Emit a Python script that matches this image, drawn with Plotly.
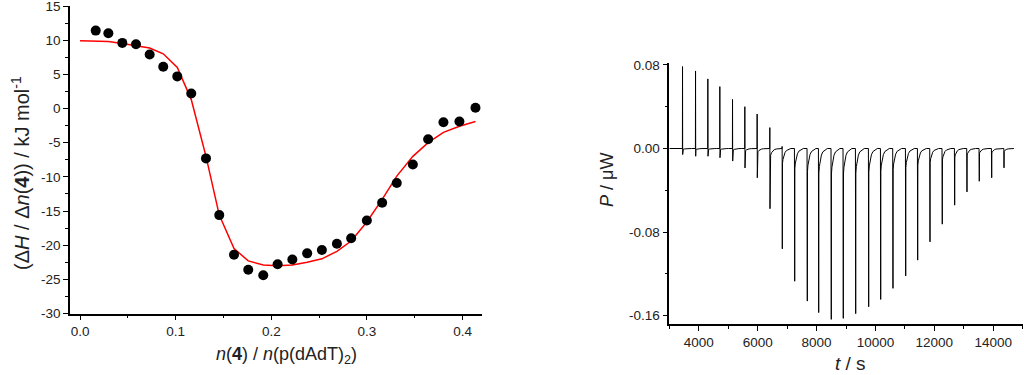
import plotly.graph_objects as go

# ---------------- Left panel: binding isotherm ----------------
ratio = [0.0164, 0.0296, 0.0442, 0.0585, 0.0728, 0.0870, 0.1017, 0.1163, 0.1317,
         0.1456, 0.1610, 0.1759, 0.1916, 0.2066, 0.2220, 0.2375, 0.2529, 0.2686,
         0.2835, 0.2999, 0.3159, 0.3312, 0.3480, 0.3640, 0.3800, 0.3967, 0.4135]
dH = [11.4, 11.0, 9.6, 9.4, 7.9, 6.1, 4.7, 2.2, -7.3,
      -15.6, -21.4, -23.6, -24.4, -22.8, -22.1, -21.2, -20.7, -19.8,
      -19.0, -16.4, -13.8, -10.9, -8.2, -4.5, -2.0, -1.9, 0.1]

fit_x = [0.0, 0.0164, 0.0296, 0.0442, 0.0585, 0.0728, 0.0870, 0.1017, 0.1163, 0.1317,
         0.1456, 0.1610, 0.1759, 0.1916, 0.2066, 0.2220, 0.2375, 0.2529, 0.2686,
         0.2835, 0.2999, 0.3159, 0.3312, 0.3480, 0.3640, 0.3800, 0.3967, 0.4135]
fit_y = [9.9, 9.85, 9.8, 9.5, 9.2, 8.85, 8.0, 6.0, 1.3, -7.0,
         -15.6, -20.5, -22.3, -22.9, -23.0, -22.9, -22.5, -22.0, -20.9,
         -19.4, -16.6, -13.3, -9.9, -7.0, -5.0, -3.5, -2.6, -1.9]

left_xticks = [0.0, 0.1, 0.2, 0.3, 0.4]
left_xticklabels = ["0.0", "0.1", "0.2", "0.3", "0.4"]
left_yticks = [15, 10, 5, 0, -5, -10, -15, -20, -25, -30]
left_yticklabels = ["15", "10", "5", "0", "-5", "-10", "-15", "-20", "-25", "-30"]

# ---------------- Right panel: raw thermogram ----------------
inj_times = [3446, 3888, 4306, 4713, 5144, 5562, 5980, 6411, 6829, 7250, 7678, 8065,
             8492, 8900, 9321, 9762, 10170, 10587, 11019, 11426, 11844, 12261, 12682,
             13100, 13518, 13939, 14357]
peak_max = [0.0784, 0.0742, 0.0666, 0.0592, 0.047, 0.040, 0.033, 0.020, 0.002, 0.0,
            0.0, 0.0, 0.0, 0.0, 0.0, 0.0, 0.0, 0.0, 0.0, 0.0, 0.0, 0.0, 0.0, 0.0,
            0.0, 0.0, 0.0]
peak_min = [-0.0058, -0.0074, -0.0074, -0.0088, -0.012, -0.0186, -0.028, -0.0576, -0.096,
            -0.127, -0.146, -0.157, -0.1635, -0.1625, -0.158, -0.1514, -0.1444, -0.1338,
            -0.122, -0.1068, -0.0893, -0.0724, -0.0542, -0.0415, -0.0313, -0.028, -0.0185]
trace_start = 3000
trace_end = 14700

right_xticks = [4000, 6000, 8000, 10000, 12000, 14000]
right_xticklabels = ["4000", "6000", "8000", "10000", "12000", "14000"]
right_yticks = [0.08, 0.0, -0.08, -0.16]
right_yticklabels = ["0.08", "0.00", "-0.08", "-0.16"]

# peak profile (relative time offsets in s, fraction of the peak minimum)
prof_dt = [8, 14, 30, 60, 100, 150, 220, 300]
prof_f = [1.0, 0.15, 0.11, 0.07, 0.04, 0.02, 0.008, 0.0]

tx = [trace_start]
ty = [0.0]
for t, mx, mn in zip(inj_times, peak_max, peak_min):
    tx += [t - 1, t + 3]
    ty += [0.0, mx]
    for dt, f in zip(prof_dt, prof_f):
        tx.append(t + dt)
        ty.append(mn * f)
tx.append(trace_end)
ty.append(0.0)

W, H = 1024, 375
def px_x(p):
    return p / W
def px_y(p):
    return (H - p) / H

fig = go.Figure()
fig.add_trace(go.Scatter(x=fit_x, y=fit_y, mode="lines",
                         line=dict(color="#ff0000", width=1.5),
                         xaxis="x", yaxis="y", showlegend=False))
fig.add_trace(go.Scatter(x=ratio, y=dH, mode="markers",
                         marker=dict(color="black", size=10),
                         xaxis="x", yaxis="y", showlegend=False))
fig.add_trace(go.Scatter(x=tx, y=ty, mode="lines",
                         line=dict(color="black", width=1),
                         xaxis="x2", yaxis="y2", showlegend=False))

FONT = "Liberation Sans, Arial, sans-serif"
tickfont = dict(family=FONT, size=13.5, color="#222")
axis_common = dict(showline=True, linecolor="black", linewidth=1.5, ticks="outside",
                   tickcolor="black", tickwidth=1, ticklen=5, showgrid=False,
                   zeroline=False, tickfont=tickfont, mirror=False, automargin=False,
                   ticklabeloverflow="allow")

fig.update_layout(
    template="simple_white",
    width=W, height=H,
    margin=dict(l=0, r=0, t=0, b=0),
    paper_bgcolor="white", plot_bgcolor="white",
    xaxis=dict(domain=[px_x(70), px_x(481.7)], range=[-0.0105, 0.42], anchor="y",
               tickmode="array", tickvals=left_xticks, ticktext=left_xticklabels,
               minor=dict(ticks="outside", ticklen=3, dtick=0.05, tick0=0, tickcolor="black"),
               **axis_common),
    yaxis=dict(domain=[px_y(313.5), px_y(6)], range=[-30, 15], anchor="x",
               tickmode="array", tickvals=left_yticks, ticktext=left_yticklabels,
               minor=dict(ticks="outside", ticklen=3, dtick=2.5, tick0=0, tickcolor="black"),
               **axis_common),
    xaxis2=dict(domain=[px_x(669.3), px_x(1022.7)], range=[3000, 15000], anchor="y2",
                tickmode="array", tickvals=right_xticks, ticktext=right_xticklabels,
                minor=dict(ticks="outside", ticklen=3, dtick=1000, tick0=0, tickcolor="black"),
                **axis_common),
    yaxis2=dict(domain=[px_y(324.3), px_y(62.8)], range=[-0.1682, 0.082], anchor="x2",
                tickmode="array", tickvals=right_yticks, ticktext=right_yticklabels,
                minor=dict(ticks="outside", ticklen=3, dtick=0.04, tick0=0, tickcolor="black"),
                **axis_common),
)

fig.add_annotation(text="(Δ<i>H</i> / Δ<i>n</i>(<b>4</b>)) / kJ mol<sup>-1</sup>",
                   x=px_x(20), y=px_y(173), xref="paper", yref="paper",
                   textangle=-90, showarrow=False,
                   font=dict(family=FONT, size=20, color="#222"),
                   xanchor="center", yanchor="middle")
fig.add_annotation(text="<i>n</i>(<b>4</b>) / <i>n</i>(p(dAdT)<sub>2</sub>)",
                   x=px_x(286), y=px_y(355), xref="paper", yref="paper",
                   showarrow=False, font=dict(family=FONT, size=18, color="#222"),
                   xanchor="center", yanchor="middle")
fig.add_annotation(text="<i>P</i> / μW",
                   x=px_x(607), y=px_y(180), xref="paper", yref="paper",
                   textangle=-90, showarrow=False,
                   font=dict(family=FONT, size=18, color="#222"),
                   xanchor="center", yanchor="middle")
fig.add_annotation(text="<i>t</i> / s",
                   x=px_x(850), y=px_y(363), xref="paper", yref="paper",
                   showarrow=False,
                   font=dict(family=FONT, size=19, color="#222"),
                   xanchor="center", yanchor="middle")

fig.write_html("out.html",
               config={"displayModeBar": False},
               post_script="document.body.style.margin='0';document.body.style.overflow='hidden';")
